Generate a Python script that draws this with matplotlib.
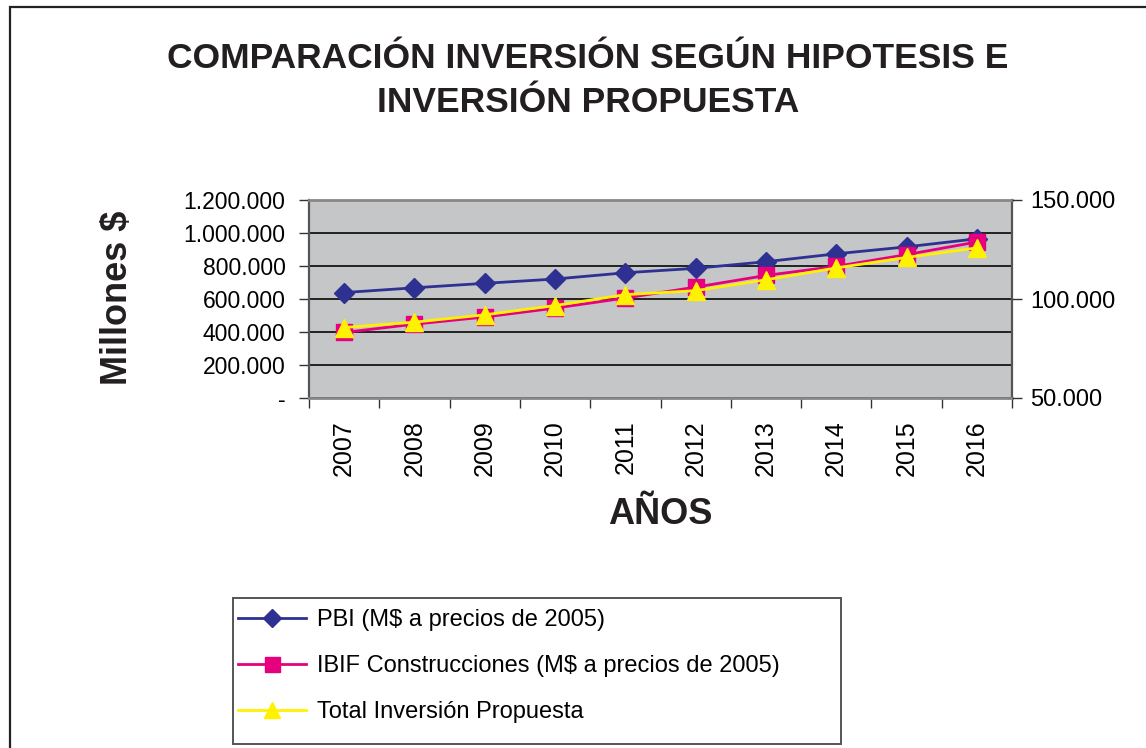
import matplotlib
matplotlib.use("Agg")
import matplotlib.pyplot as plt
from matplotlib.patches import Rectangle
from matplotlib.ticker import FuncFormatter

plt.rcParams['font.family'] = ['Liberation Sans', 'DejaVu Sans']

# data
years = ['2007', '2008', '2009', '2010', '2011', '2012', '2013', '2014', '2015', '2016']
pbi = [639000, 668000, 695000, 721000, 759000, 786000, 826000, 874000, 916000, 965000]      # left axis
ibif = [83100, 87300, 90900, 95400, 100500, 106000, 111900, 116500, 122400, 128800]         # right axis
total = [85600, 88300, 92000, 96700, 102200, 104200, 109700, 115700, 121000, 125800]       # right axis

left_ticks = [0, 200000, 400000, 600000, 800000, 1000000, 1200000]
right_ticks = [50000, 100000, 150000]

c_pbi = '#2E3192'
c_ibif = '#E6007E'
c_tot = '#FFF200'


def miles(v, pos=None):
    if v == 0:
        return '-'
    return '{:,.0f}'.format(v).replace(',', '.')


W, H = 1146, 748
fig = plt.figure(figsize=(W / 100, H / 100), dpi=100)
fig.patch.set_facecolor('white')

# outer chart frame (runs off the right and bottom of the picture)
fig.patches.append(Rectangle((10 / W, -0.1), 1.2, 1 - 7 / H + 0.1, transform=fig.transFigure,
                             fill=False, edgecolor='#222222', linewidth=1.6))

ax = fig.add_axes([309 / W, 1 - 398 / H, 703 / W, 198 / H])
ax.set_facecolor('#C5C6C8')
x = list(range(len(years)))

ax.set_xlim(-0.5, len(years) - 0.5)
ax.set_ylim(0, 1200000)
ax.set_yticks(left_ticks)
ax.yaxis.set_major_formatter(FuncFormatter(miles))
ax.grid(axis='y', color='#222222', linewidth=1.4)
ax.set_axisbelow(True)

ax.set_xticks(x)
ax.set_xticklabels(years, rotation=90, fontsize=18)
ax.set_xticks([i - 0.5 for i in range(len(years) + 1)], minor=True)
ax.tick_params(axis='x', which='major', length=0, pad=16)
ax.tick_params(axis='x', which='minor', length=7, width=1, color='#333333')
ax.tick_params(axis='y', length=7, width=1, color='#333333', labelsize=16.5, pad=10)

for s in ['top', 'bottom']:
    ax.spines[s].set_color('#888888')
    ax.spines[s].set_linewidth(2)
ax.spines['left'].set_color('#555555')
ax.spines['left'].set_linewidth(1.6)
ax.spines['right'].set_color('#555555')
ax.spines['right'].set_linewidth(1.6)

l1, = ax.plot(x, pbi, color=c_pbi, linewidth=2, marker='D', markersize=10,
              markerfacecolor=c_pbi, markeredgecolor=c_pbi, label='PBI (M$ a precios de 2005)', zorder=3)

ax2 = ax.twinx()
ax2.set_ylim(50000, 150000)
ax2.set_yticks(right_ticks)
ax2.yaxis.set_major_formatter(FuncFormatter(miles))
ax2.tick_params(axis='y', length=7, width=1, color='#333333', labelsize=17, pad=6)
for s in ax2.spines.values():
    s.set_visible(False)

l2, = ax2.plot(x, ibif, color=c_ibif, linewidth=2, marker='s', markersize=12,
               markerfacecolor=c_ibif, markeredgecolor=c_ibif,
               label='IBIF Construcciones (M$ a precios de 2005)', zorder=3)
l3, = ax2.plot(x, total, color=c_tot, linewidth=2, marker='^', markersize=13,
               markerfacecolor=c_tot, markeredgecolor=c_tot,
               label='Total Inversión Propuesta', zorder=4)

fig.text(588 / W, 1 - 58 / H, 'COMPARACIÓN INVERSIÓN SEGÚN HIPOTESIS E',
         ha='center', va='center', fontsize=25.5, fontweight='bold', color='#231F20')
fig.text(588 / W, 1 - 103 / H, 'INVERSIÓN PROPUESTA',
         ha='center', va='center', fontsize=25.5, fontweight='bold', color='#231F20')
fig.text(118 / W, 1 - 298 / H, 'Millones $', rotation=90, ha='center', va='center',
         fontsize=26, fontweight='bold', color='#231F20')
fig.text(660 / W, 1 - 514 / H, 'AÑOS', ha='center', va='center',
         fontsize=26, fontweight='bold', color='#231F20')

# legend box
fig.patches.append(Rectangle((233 / W, 1 - 744 / H), (841 - 233) / W, (744 - 598) / H,
                             transform=fig.transFigure, fill=False,
                             edgecolor='#555555', linewidth=1.4))
fig.legend(handles=[l1, l2, l3], loc='upper left', bbox_to_anchor=(238 / W, 1 - 609 / H),
           frameon=False, fontsize=17, handlelength=2.9, handletextpad=0.45,
           labelspacing=1.02, borderaxespad=0, borderpad=0, markerscale=0.9)

fig.savefig('out.png', dpi=100)
